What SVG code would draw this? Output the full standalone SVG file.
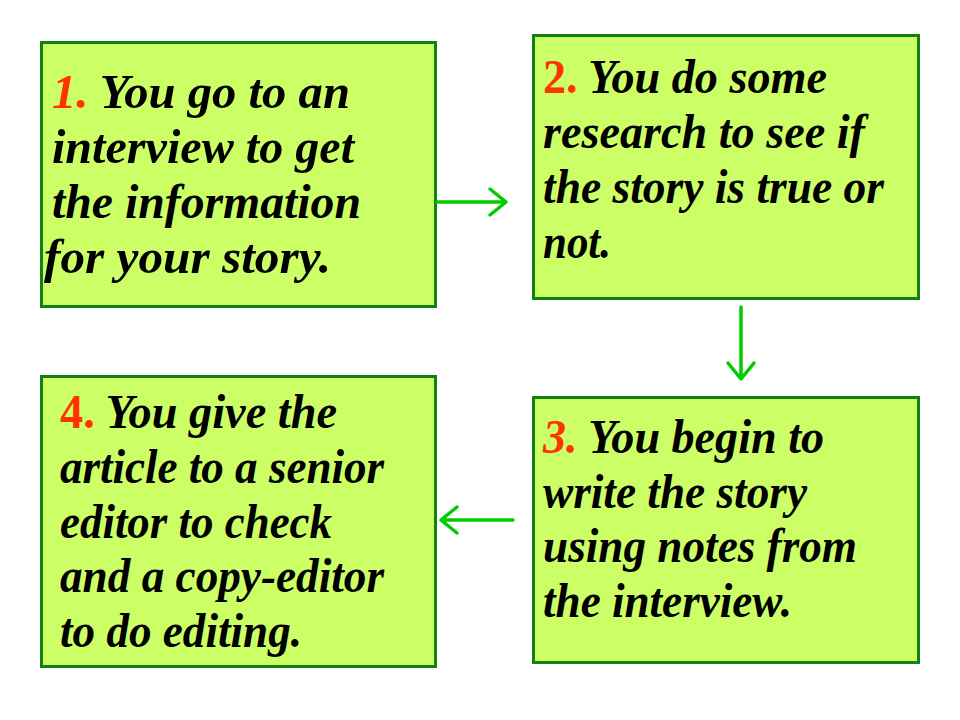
<svg xmlns="http://www.w3.org/2000/svg" width="960" height="720" viewBox="0 0 960 720">
<style>
.box{fill:#CCFF66;stroke:#128012;stroke-width:3}
.t{font-family:"Liberation Serif","Times New Roman",serif;font-size:48px;font-weight:bold;font-style:italic;fill:#000}
.n{fill:#FF3300}
.up{font-style:normal}
.c{stroke:#00CC00;stroke-width:3.5;fill:none;stroke-linecap:round;stroke-linejoin:round}
</style>
<rect width="960" height="720" fill="#FFFFFF"/>
<g id="node1">
<rect class="box" x="41.5" y="42.5" width="394" height="264"/>
<text class="t" x="52" y="108" textLength="298" lengthAdjust="spacingAndGlyphs"><tspan class="n">1.</tspan> You go to an</text>
<text class="t" x="52" y="163" textLength="302" lengthAdjust="spacingAndGlyphs">interview to get</text>
<text class="t" x="52" y="218" textLength="309" lengthAdjust="spacingAndGlyphs">the information</text>
<text class="t" x="44" y="273" textLength="287" lengthAdjust="spacingAndGlyphs">for your story.</text>
</g>
<g id="node2">
<rect class="box" x="533.5" y="35.5" width="385" height="263"/>
<text class="t" x="543" y="93" textLength="284" lengthAdjust="spacingAndGlyphs"><tspan class="n up">2.</tspan> You do some</text>
<text class="t" x="543" y="148" textLength="322" lengthAdjust="spacingAndGlyphs">research to see if</text>
<text class="t" x="543" y="203" textLength="341" lengthAdjust="spacingAndGlyphs">the story is true or</text>
<text class="t" x="543" y="258" textLength="68" lengthAdjust="spacingAndGlyphs">not.</text>
</g>
<g id="node3">
<rect class="box" x="533.5" y="397.5" width="385" height="265"/>
<text class="t" x="543" y="453" textLength="281" lengthAdjust="spacingAndGlyphs"><tspan class="n">3.</tspan> You begin to</text>
<text class="t" x="543" y="508" textLength="264" lengthAdjust="spacingAndGlyphs">write the story</text>
<text class="t" x="543" y="562" textLength="314" lengthAdjust="spacingAndGlyphs">using notes from</text>
<text class="t" x="543" y="617" textLength="249" lengthAdjust="spacingAndGlyphs">the interview.</text>
</g>
<g id="node4">
<rect class="box" x="41.5" y="376.5" width="394" height="290"/>
<text class="t" x="60" y="428" textLength="277" lengthAdjust="spacingAndGlyphs"><tspan class="n up">4.</tspan> You give the</text>
<text class="t" x="60" y="483" textLength="324" lengthAdjust="spacingAndGlyphs">article to a senior</text>
<text class="t" x="60" y="538" textLength="272" lengthAdjust="spacingAndGlyphs">editor to check</text>
<text class="t" x="60" y="592" textLength="324" lengthAdjust="spacingAndGlyphs">and a copy-editor</text>
<text class="t" x="60" y="647" textLength="242" lengthAdjust="spacingAndGlyphs">to do editing.</text>
</g>
<g id="connectors">
<path class="c" d="M437 202 H505 M490 189 L506 202 L490 215"/>
<path class="c" d="M741 307 V378 M728 363 L741 379 L754 363"/>
<path class="c" d="M513 520 H442 M457 507 L441 520 L457 533"/>
</g>
</svg>
